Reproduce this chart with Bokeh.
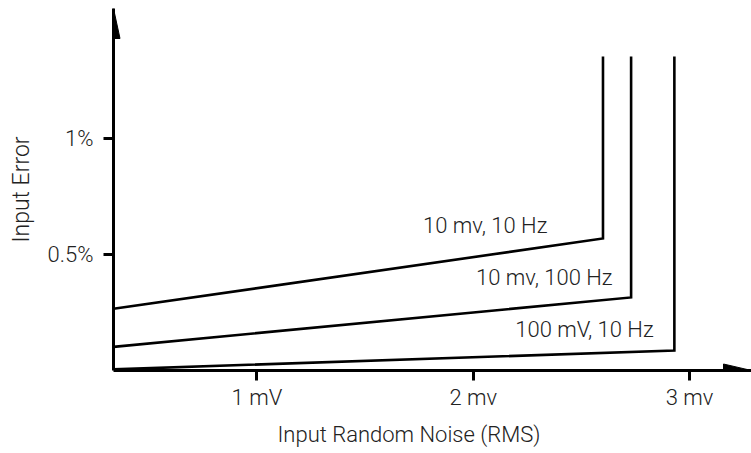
from bokeh.plotting import figure
from bokeh.models import FixedTicker, Range1d, Title
from bokeh.core.properties import value
from bokeh.embed import file_html
from bokeh.resources import INLINE

# ---- data ----
x_ticks = [1, 2, 3]
x_tick_labels = ["1 mV", "2 mv", "3 mv"]
y_ticks = [0.5, 1.0]
y_tick_labels = ["0.5%", "1%"]

series_names = ["10 mv, 10 Hz", "10 mv, 100 Hz", "100 mV, 10 Hz"]
x_start = 0.337
y_start = [0.266, 0.102, 0.005]
x_corner = [2.60, 2.73, 2.93]
y_corner = [0.569, 0.315, 0.086]
y_top = 1.353

label_x = [2.343, 2.644, 2.834]
label_y = [0.625, 0.401, 0.177]

x_title = "Input Random Noise (RMS)"
y_title = "Input Error"

# ---- layout ----
W, H = 751, 453
BL, BR, BT, BB = 113, 0, 8, 83
FW, FH = W - BL - BR, H - BT - BB
PX_PER_MV = 216.3
PX_PER_PCT = 232.0
x_end = x_start + FW / PX_PER_MV
y_end = FH / PX_PER_PCT

FONT = "Roboto Light"
TXT = "#222222"
FS = "22px"

p = figure(width=W, height=H, output_backend="svg", toolbar_location=None,
           x_range=Range1d(x_start, x_end), y_range=Range1d(0, y_end),
           min_border_left=BL, min_border_right=BR, min_border_top=BT,
           min_border_bottom=BB)
p.outline_line_color = None
p.grid.visible = False
p.background_fill_color = "white"
p.border_fill_color = "white"

for ax in (p.xaxis[0], p.yaxis[0]):
    ax.axis_line_width = 3
    ax.axis_line_color = "black"
    ax.major_tick_line_width = 3
    ax.major_tick_line_color = "black"
    ax.major_tick_in = 0
    ax.major_tick_out = 10
    ax.minor_tick_line_color = None
    ax.major_label_text_font = FONT
    ax.major_label_text_font_size = FS
    ax.major_label_text_color = TXT
    ax.axis_label_text_font = FONT
    ax.axis_label_text_font_size = FS
    ax.axis_label_text_font_style = "normal"
    ax.axis_label_text_color = TXT

p.xaxis.ticker = FixedTicker(ticks=x_ticks)
p.xaxis.major_label_overrides = {t: l for t, l in zip(x_ticks, x_tick_labels)}
p.xaxis.major_label_standoff = 4

p.yaxis.ticker = FixedTicker(ticks=y_ticks)
p.yaxis.major_label_overrides = {t: l for t, l in zip(y_ticks, y_tick_labels)}
p.yaxis.axis_label = y_title
p.yaxis.axis_label_text_font_size = "23px"
p.yaxis.major_label_standoff = 10
p.yaxis.axis_label_standoff = 10

# x-axis title, placed off-centre as in the reference
p.add_layout(Title(text=x_title, align="left", offset=164,
                   text_font=FONT, text_font_size=FS, text_font_style="normal",
                   text_color=TXT, standoff=14), "below")

# ---- series ----
for ys, xc, yc in zip(y_start, x_corner, y_corner):
    p.line([x_start, xc, xc], [ys, yc, y_top], line_color="black",
           line_width=2.6, line_join="miter")

p.text(x=label_x, y=label_y, text=series_names, text_align="right",
       text_baseline="middle", text_font=value(FONT), text_font_size=FS,
       text_color=TXT)

# ---- arrowheads on axes ----
head_len_x = 28 / PX_PER_MV
head_half_y = 6.5 / PX_PER_PCT
p.patch([x_end, x_end - head_len_x, x_end - head_len_x],
        [0, head_half_y, -head_half_y], fill_color="black", line_color="black",
        line_width=1)
head_len_y = 30 / PX_PER_PCT
head_half_x = 6.5 / PX_PER_MV
p.patch([x_start, x_start - head_half_x, x_start + head_half_x],
        [y_end, y_end - head_len_y, y_end - head_len_y],
        fill_color="black", line_color="black", line_width=1)

open("out.html", "w").write(file_html(p, INLINE))
